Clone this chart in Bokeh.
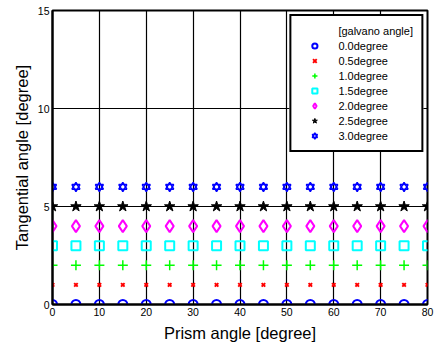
from bokeh.plotting import figure
from bokeh.models import Legend, LegendItem, Range1d, FixedTicker
from bokeh.embed import file_html
from bokeh.resources import INLINE

prism = [0, 5, 10, 15, 20, 25, 30, 35, 40, 45, 50, 55, 60, 65, 70, 75, 80]
tan_00 = [0, 0, 0, 0, 0, 0, 0, 0, 0, 0, 0, 0, 0, 0, 0, 0, 0]
tan_05 = [1, 1, 1, 1, 1, 1, 1, 1, 1, 1, 1, 1, 1, 1, 1, 1, 1]
tan_10 = [2, 2, 2, 2, 2, 2, 2, 2, 2, 2, 2, 2, 2, 2, 2, 2, 2]
tan_15 = [3, 3, 3, 3, 3, 3, 3, 3, 3, 3, 3, 3, 3, 3, 3, 3, 3]
tan_20 = [4, 4, 4, 4, 4, 4, 4, 4, 4, 4, 4, 4, 4, 4, 4, 4, 4]
tan_25 = [5, 5, 5, 5, 5, 5, 5, 5, 5, 5, 5, 5, 5, 5, 5, 5, 5]
tan_30 = [6, 6, 6, 6, 6, 6, 6, 6, 6, 6, 6, 6, 6, 6, 6, 6, 6]
labels = ["0.0degree", "0.5degree", "1.0degree", "1.5degree",
          "2.0degree", "2.5degree", "3.0degree"]
x_ticks = [0, 10, 20, 30, 40, 50, 60, 70, 80]
y_ticks = [0, 5, 10, 15]

FONT = "Liberation Sans"

p = figure(width=435, height=345, output_backend="svg", toolbar_location=None,
           x_range=Range1d(0, 80), y_range=Range1d(0, 15),
           min_border_left=52, min_border_right=8, min_border_top=10,
           min_border_bottom=41)
p.background_fill_color = "white"
p.border_fill_color = "white"
p.outline_line_color = "black"
p.outline_line_alpha = 1.0
p.outline_line_width = 2

for ax in (p.xaxis[0], p.yaxis[0]):
    ax.axis_line_width = 2
    ax.axis_line_color = "black"
    ax.major_tick_in = 4
    ax.major_tick_out = 0
    ax.major_tick_line_color = "black"
    ax.minor_tick_line_color = None
    ax.major_label_text_font = FONT
    ax.major_label_text_font_size = "10.5px"
    ax.major_label_text_color = "black"
    ax.axis_label_text_font = FONT
    ax.axis_label_text_font_size = "16.5px"
    ax.axis_label_text_font_style = "normal"
    ax.axis_label_text_color = "black"

p.xaxis.ticker = FixedTicker(ticks=x_ticks)
p.yaxis.ticker = FixedTicker(ticks=y_ticks)
p.xaxis.axis_label = "Prism angle [degree]"
p.yaxis.axis_label = "Tangential angle [degree]"
p.xaxis.major_label_standoff = 3
p.yaxis.major_label_standoff = 3
p.xaxis.axis_label_standoff = 5
p.yaxis.axis_label_standoff = 4

p.xgrid.ticker = FixedTicker(ticks=x_ticks)
p.ygrid.ticker = FixedTicker(ticks=y_ticks)
for g in (p.xgrid[0], p.ygrid[0]):
    g.grid_line_color = "black"
    g.grid_line_alpha = 1.0
    g.grid_line_width = 1.2

r_title = p.scatter(x=[], y=[], size=1, line_alpha=0, fill_alpha=0)

r0 = p.scatter(prism, tan_00, marker="circle", size=9, line_color="#0000FF",
               fill_color=None, line_width=2)
r1 = p.scatter(prism, tan_05, marker="x", size=5, line_color="#FF0000",
               line_width=2)
r2 = p.scatter(prism, tan_10, marker="cross", size=10, line_color="#00FF00",
               line_width=1.5)
r3 = p.scatter(prism, tan_15, marker="square", size=9, line_color="#00FFFF",
               fill_color=None, line_width=2)
r4 = p.scatter(prism, tan_20, marker="diamond", size=12, line_color="#FF00FF",
               fill_color=None, line_width=2)
r5 = p.scatter(prism, tan_25, marker="star", size=11, line_color="black",
               fill_color="black", line_width=1)
r6a = p.scatter(prism, tan_30, marker="triangle", size=8, line_color="#0000FF",
                fill_color=None, line_width=1.5)
r6b = p.scatter(prism, tan_30, marker="inverted_triangle", size=8,
                line_color="#0000FF", fill_color=None, line_width=1.5)

legend = Legend(items=[
    LegendItem(label="[galvano angle]", renderers=[r_title]),
    LegendItem(label=labels[0], renderers=[r0]),
    LegendItem(label=labels[1], renderers=[r1]),
    LegendItem(label=labels[2], renderers=[r2]),
    LegendItem(label=labels[3], renderers=[r3]),
    LegendItem(label=labels[4], renderers=[r4]),
    LegendItem(label=labels[5], renderers=[r5]),
    LegendItem(label=labels[6], renderers=[r6a, r6b]),
], location="top_right")
legend.margin = 4
legend.padding = 8
legend.spacing = 2
legend.glyph_width = 30
legend.glyph_height = 13
legend.label_height = 13
legend.label_standoff = 9
legend.label_text_font = FONT
legend.label_text_font_size = "11px"
legend.label_text_color = "black"
legend.border_line_color = "black"
legend.border_line_alpha = 1.0
legend.border_line_width = 2
legend.background_fill_color = "white"
legend.background_fill_alpha = 1.0
p.add_layout(legend, "center")

open("out.html", "w").write(file_html(p, INLINE))
